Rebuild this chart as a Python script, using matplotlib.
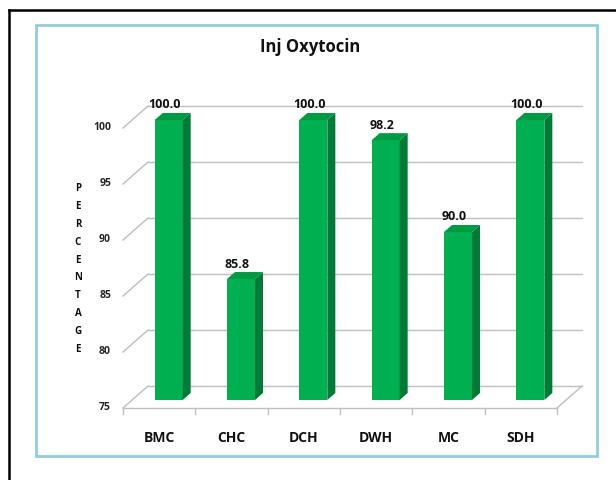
import matplotlib
matplotlib.use("Agg")
import matplotlib.pyplot as plt
from matplotlib.patches import Polygon, Rectangle
from matplotlib.lines import Line2D

categories = ["BMC", "CHC", "DCH", "DWH", "MC", "SDH"]
values = [100.0, 85.8, 100.0, 98.2, 90.0, 100.0]
yticks = [75, 80, 85, 90, 95, 100]
ylabel = "PERCENTAGE"
title = "Inj Oxytocin"

FONT = "Open Sans"
W, H = 616, 480
fig = plt.figure(figsize=(W / 100, H / 100), dpi=100)
fig.patch.set_facecolor("white")

# outer black frame (left and top) and light blue chart border
fig.add_artist(Line2D([9 / W, 9 / W], [0, 1 - 10 / H], color="black", lw=1.8,
                      transform=fig.transFigure))
fig.add_artist(Line2D([9 / W, 1], [1 - 10 / H, 1 - 10 / H], color="black", lw=1.8,
                      transform=fig.transFigure))
fig.add_artist(Rectangle((36 / W, 1 - 456 / H), 561 / W, 431 / H, fill=False,
                         edgecolor="#93CDDD", lw=2, transform=fig.transFigure))

# axes = plane of the bar front faces
left_px, right_px, y75_px, y100_px = 132.5, 566.5, 400, 120
ax = fig.add_axes([left_px / W, 1 - y75_px / H, (right_px - left_px) / W,
                   (y75_px - y100_px) / H])
ax.set_xlim(-0.5, len(categories) - 0.5)
ax.set_ylim(yticks[0], yticks[-1])
ax.axis("off")

pxx = (right_px - left_px) / len(categories)   # px per category
pxy = (y75_px - y100_px) / (yticks[-1] - yticks[0])  # px per unit

bdx, bdy = 15.5 / pxx, 14 / pxy      # back wall offset
fdx, fdy = -9.5 / pxx, -8 / pxy      # front floor offset
grid_c = "#BFBFBF"
x0, x1 = -0.5, len(categories) - 0.5
ymin = yticks[0]

# back wall gridlines + side wall diagonals
for v in yticks:
    ax.add_line(Line2D([x0 + bdx, x1 + bdx], [v + bdy, v + bdy], color=grid_c,
                       lw=1, clip_on=False, zorder=1))
    ax.add_line(Line2D([x0 + fdx, x0 + bdx], [v + fdy, v + bdy], color=grid_c,
                       lw=1, clip_on=False, zorder=1))
    ax.text(x0 + fdx - 12 / pxx, v + fdy, str(v), ha="right", va="center",
            fontsize=7.5, fontweight="bold", family=FONT, color="#262626")

# floor
ax.add_line(Line2D([x0 + fdx, x1 + fdx], [ymin + fdy, ymin + fdy], color=grid_c,
                   lw=1, clip_on=False, zorder=1))
ax.add_line(Line2D([x1 + fdx, x1 + bdx], [ymin + fdy, ymin + bdy], color=grid_c,
                   lw=1, clip_on=False, zorder=1))
for i in range(len(categories) + 1):
    xb = x0 + i + fdx
    ax.add_line(Line2D([xb, xb], [ymin + fdy, ymin + fdy - 6 / pxy], color=grid_c,
                       lw=1, clip_on=False, zorder=1))

# bars
bw = 28 / pxx
ddx, ddy = 8 / pxx, 7 / pxy
front_c, side_c, top_c = "#00B050", "#007A37", "#009A42"
xs = list(range(len(categories)))
ax.bar(xs, [v - ymin for v in values], bottom=ymin, width=bw, color=front_c,
       zorder=3, clip_on=False)
for x, v in zip(xs, values):
    xr = x + bw / 2
    xl = x - bw / 2
    ax.add_patch(Polygon([(xr, ymin), (xr + ddx, ymin + ddy), (xr + ddx, v + ddy),
                          (xr, v)], closed=True, facecolor=side_c, edgecolor="none",
                         zorder=3, clip_on=False))
    ax.add_patch(Polygon([(xl, v), (xr, v), (xr + ddx, v + ddy), (xl + ddx, v + ddy)],
                         closed=True, facecolor=top_c, edgecolor="none",
                         zorder=3, clip_on=False))
    ax.text(x - 0.05, v + 15 / pxy, f"{v:.1f}", ha="center", va="center",
            fontsize=9, fontweight="bold", family=FONT, color="#111111", zorder=4)

# category labels
for x, c in zip(xs, categories):
    ax.text(x + fdx, ymin + fdy - 30 / pxy, c, ha="center", va="center",
            fontsize=10, fontweight="bold", family=FONT, color="#111111")

# title
fig.text(310 / W, 1 - 47 / H, title, ha="center", va="center", fontsize=12,
         fontweight="bold", family=FONT, color="#111111")

# vertical stacked y label
fig.text(78 / W, 1 - 269 / H, "\n".join(ylabel), ha="center", va="center",
         fontsize=7, fontweight="bold", family=FONT, color="#111111",
         linespacing=1.85)

fig.savefig("out.png", dpi=100, facecolor="white")
